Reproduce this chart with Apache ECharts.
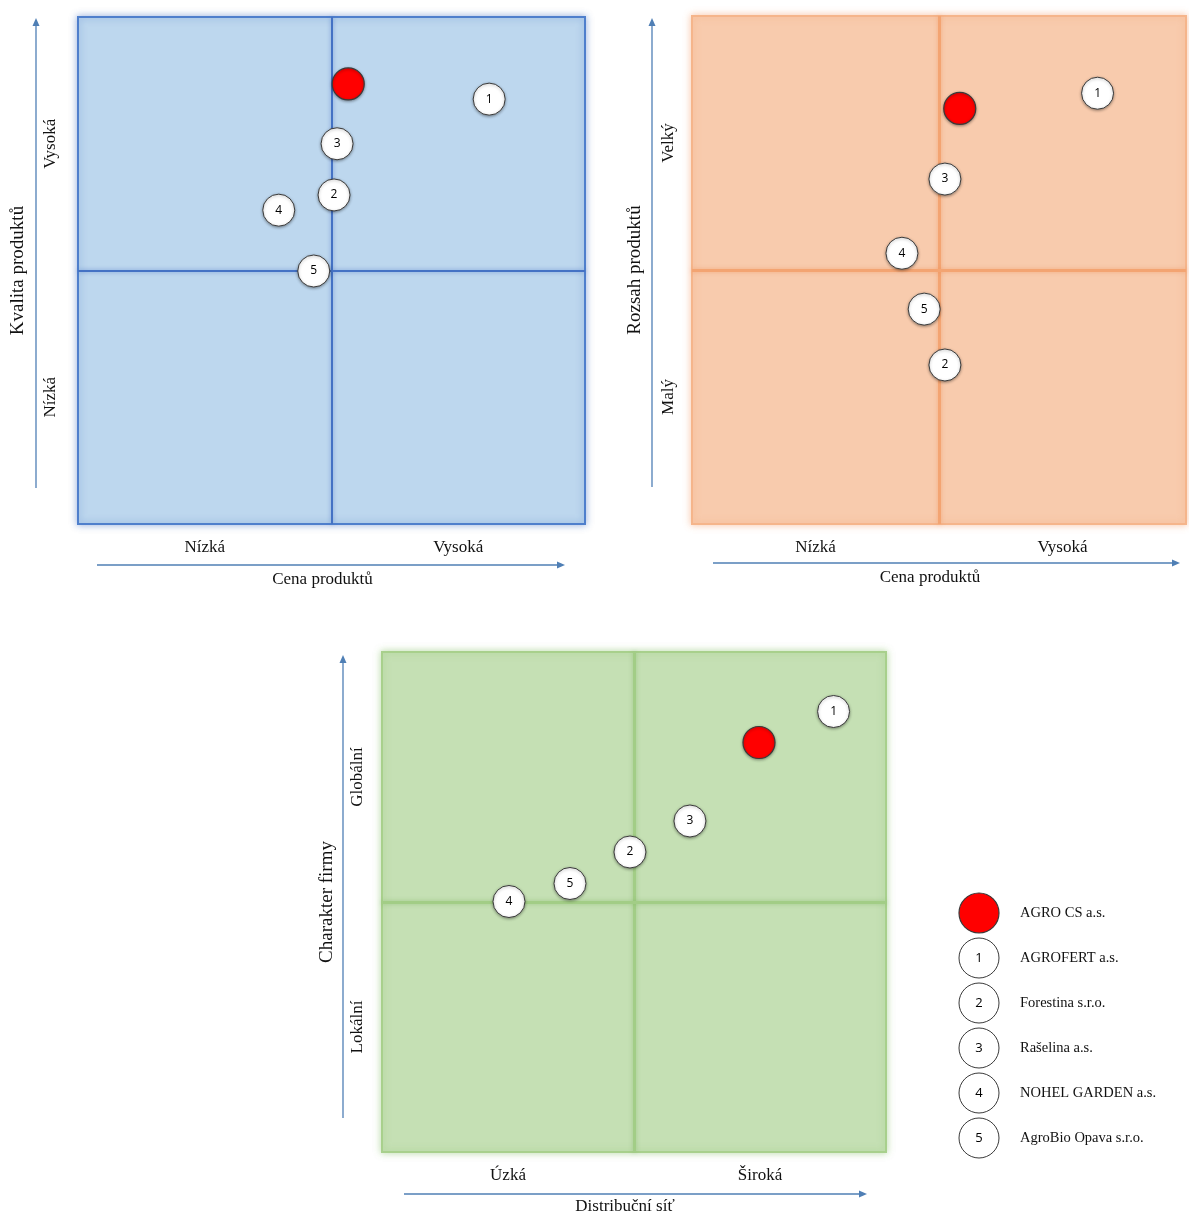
<!DOCTYPE html>
<html>
<head>
<meta charset="utf-8">
<title>Poziční mapy konkurence</title>
<script src="https://cdn.jsdelivr.net/npm/echarts@6/dist/echarts.min.js"></script>
<style>
  html, body { margin: 0; padding: 0; background: #fff; }
  #chart { width: 1189px; height: 1216px; }
</style>
</head>
<body>
<div id="chart"></div>
<script>
// Firms compared on the three positioning maps
const firms = ['AGRO CS a.s.', 'AGROFERT a.s.', 'Forestina s.r.o.', 'Rašelina a.s.', 'NOHEL GARDEN a.s.', 'AgroBio Opava s.r.o.'];
const markers = ['', '1', '2', '3', '4', '5'];

// Map 1: price vs. product quality (scale 0–10, midpoint 5)
const cena1 = [5.33, 8.11, 5.05, 5.11, 3.96, 4.65];
const kvalita = [8.68, 8.38, 6.49, 7.50, 6.19, 4.99];

// Map 2: price vs. product range
const cena2 = [5.42, 8.21, 5.12, 5.12, 4.25, 4.70];
const rozsah = [8.18, 8.48, 3.13, 6.79, 5.33, 4.23];

// Map 3: distribution network vs. company character
const distribuce = [7.48, 8.96, 4.92, 6.11, 2.52, 3.73];
const charakter = [8.19, 8.81, 6.00, 6.62, 5.01, 5.37];

// Axis end labels (low / high)
const cenaLabels = ['Nízká', 'Vysoká'];
const kvalitaLabels = ['Nízká', 'Vysoká'];
const rozsahLabels = ['Malý', 'Velký'];
const distribuceLabels = ['Úzká', 'Široká'];
const charakterLabels = ['Lokální', 'Globální'];

const SERIF = '"Liberation Serif", "Times New Roman", serif';
const SANS = '"Open Sans", "Liberation Sans", sans-serif';
const ARROW = '#4f7fb5';

const panels = [
  {
    box: { left: 78, top: 17, width: 507, height: 507 },
    fill: '#bdd7ee', border: '#4f7fcc', glow: 'rgba(68,114,196,0.5)',
    mid: '#4472c4', midWidth: 2, midGlow: 'rgba(68,114,196,0.6)',
    x: cena1, y: kvalita, xLabels: cenaLabels, yLabels: kvalitaLabels,
    xName: 'Cena produktů', yName: 'Kvalita produktů',
    xMargin: 15, xGap: 47, yMargin: 19, yGap: 50
  },
  {
    box: { left: 692, top: 16, width: 504, height: 508 },
    fill: '#f8cbad', border: '#f5b58b', glow: 'rgba(244,160,110,0.55)',
    mid: '#f3a472', midWidth: 3, midGlow: 'rgba(240,140,80,0.5)',
    x: cena2, y: rozsah, xLabels: cenaLabels, yLabels: rozsahLabels,
    xName: 'Cena produktů', yName: 'Rozsah produktů',
    xMargin: 15, xGap: 45, yMargin: 15, yGap: 47
  },
  {
    box: { left: 382, top: 652, width: 504, height: 503 },
    fill: '#c5e0b4', border: '#a8d08c', glow: 'rgba(140,195,110,0.55)',
    mid: '#a2cd86', midWidth: 3, midGlow: 'rgba(120,180,90,0.5)',
    x: distribuce, y: charakter, xLabels: distribuceLabels, yLabels: charakterLabels,
    xName: 'Distribuční síť', yName: 'Charakter firmy',
    xMargin: 15, xGap: 46, yMargin: 16, yGap: 45
  }
];

function endLabel(labels) {
  return function (v) {
    if (Math.abs(v - 2.5) < 1e-6) return labels[0];
    if (Math.abs(v - 7.5) < 1e-6) return labels[1];
    return '';
  };
}

const pointStyle = {
  color: '#ffffff', opacity: 1, borderColor: '#3a3a3a', borderWidth: 1,
  shadowBlur: 3, shadowColor: 'rgba(0,0,0,0.35)', shadowOffsetY: 1
};
const ownStyle = {
  color: '#ff0000', opacity: 1, borderColor: '#3a3a3a', borderWidth: 1.2,
  shadowBlur: 3, shadowColor: 'rgba(0,0,0,0.35)', shadowOffsetY: 1
};
const numberLabel = {
  show: true, position: 'inside', formatter: p => markers[p.dataIndex],
  color: '#000', fontFamily: SANS, fontSize: 12
};

const grid = [], xAxis = [], yAxis = [], series = [];

panels.forEach((p, i) => {
  grid.push(Object.assign({
    show: true, backgroundColor: p.fill, borderColor: p.border, borderWidth: 2,
    shadowBlur: 7, shadowColor: p.glow
  }, p.box));

  xAxis.push({
    gridIndex: i, type: 'value', min: 0, max: 10, interval: 2.5,
    axisLine: { show: false }, axisTick: { show: false }, splitLine: { show: false },
    axisLabel: { formatter: endLabel(p.xLabels), margin: p.xMargin, color: '#111', fontFamily: SERIF, fontSize: 17 },
    name: p.xName, nameLocation: 'middle', nameGap: p.xGap,
    nameTextStyle: { color: '#111', fontFamily: SERIF, fontSize: 17, padding: [0, 18, 0, 0] }
  });
  yAxis.push({
    gridIndex: i, type: 'value', min: 0, max: 10, interval: 2.5,
    axisLine: { show: false }, axisTick: { show: false }, splitLine: { show: false },
    axisLabel: { formatter: endLabel(p.yLabels), rotate: 90, margin: p.yMargin, color: '#111', fontFamily: SERIF, fontSize: 17 },
    name: p.yName, nameLocation: 'middle', nameGap: p.yGap,
    nameTextStyle: { color: '#111', fontFamily: SERIF, fontSize: 19 }
  });

  // quadrant dividers at the scale midpoint (kept beneath the markers)
  series.push({
    type: 'scatter', xAxisIndex: i, yAxisIndex: i, data: [], z: 1, silent: true,
    markLine: {
      z: 2, silent: true, symbol: 'none', label: { show: false },
      lineStyle: { color: p.mid, width: p.midWidth, type: 'solid', opacity: 1, shadowBlur: 4, shadowColor: p.midGlow },
      data: [{ xAxis: 5 }, { yAxis: 5 }]
    }
  });

  // competitors and AGRO CS
  series.push({
    type: 'scatter', xAxisIndex: i, yAxisIndex: i, z: 10, symbolSize: 32,
    data: p.x.map((v, k) => ({
      value: [v, p.y[k]],
      itemStyle: k === 0 ? ownStyle : pointStyle
    })),
    label: numberLabel
  });
});

// key: firm names next to their markers
grid.push({ left: 978, width: 2, top: 890.5, height: 270 });
xAxis.push({ gridIndex: 3, type: 'value', min: -1, max: 1, show: false });
yAxis.push({
  gridIndex: 3, type: 'category', data: firms, inverse: true, position: 'right',
  axisLine: { show: false }, axisTick: { show: false }, splitLine: { show: false },
  axisLabel: { margin: 40, color: '#111', fontFamily: SERIF, fontSize: 14.5 }
});
series.push({
  type: 'scatter', xAxisIndex: 3, yAxisIndex: 3, symbolSize: 40, z: 10,
  data: firms.map((f, k) => ({
    value: [0, k],
    itemStyle: k === 0
      ? { color: '#ff0000', opacity: 1, borderColor: '#3a3a3a', borderWidth: 1.2 }
      : { color: '#ffffff', opacity: 1, borderColor: '#3a3a3a', borderWidth: 1 }
  })),
  label: Object.assign({}, numberLabel, { fontSize: 13 })
});

// direction arrows beside each map
function arrow(x1, y1, x2, y2) {
  const dx = x2 - x1, dy = y2 - y1, len = Math.hypot(dx, dy);
  const ux = dx / len, uy = dy / len, h = 8, w = 3.5;
  return [
    { type: 'line', shape: { x1, y1, x2: x2 - ux * h * 0.8, y2: y2 - uy * h * 0.8 }, style: { stroke: ARROW, lineWidth: 1.3 }, silent: true },
    { type: 'polygon', shape: { points: [[x2, y2], [x2 - ux * h - uy * w, y2 - uy * h + ux * w], [x2 - ux * h + uy * w, y2 - uy * h - ux * w]] }, style: { fill: ARROW }, silent: true }
  ];
}
const graphic = [].concat(
  arrow(36, 488, 36, 18), arrow(97, 565, 565, 565),
  arrow(652, 487, 652, 18), arrow(713, 563, 1180, 563),
  arrow(343, 1118, 343, 655), arrow(404, 1194, 867, 1194)
);

const chart = echarts.init(document.getElementById('chart'), null, { renderer: 'canvas' });
chart.setOption({
  animation: false,
  backgroundColor: '#ffffff',
  grid, xAxis, yAxis, series, graphic
});
</script>
</body>
</html>
